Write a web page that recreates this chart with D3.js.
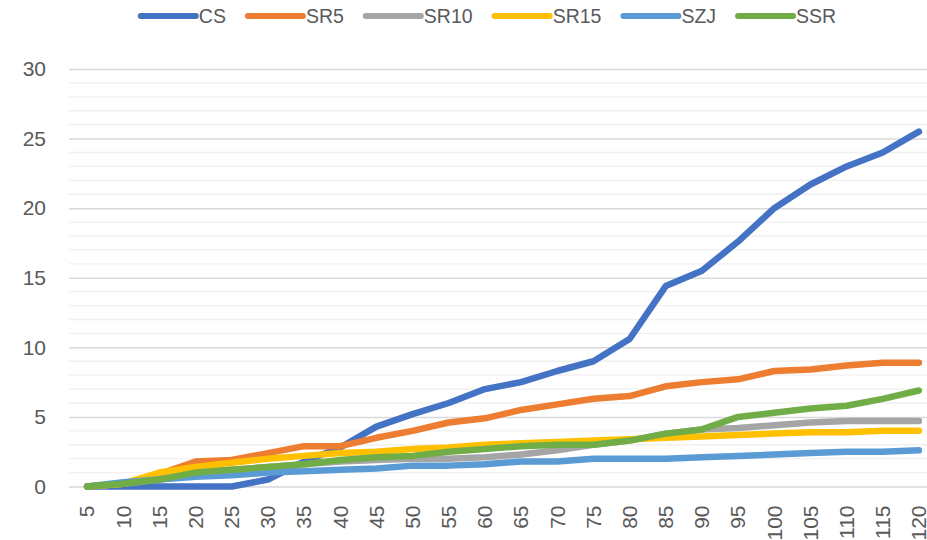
<!DOCTYPE html>
<html>
<head>
<meta charset="utf-8">
<script src="https://cdn.jsdelivr.net/npm/d3@7"></script>
<style>
    body { margin: 0; background: #fff; }
    svg { display: block; font-family: "Liberation Sans", Arial, sans-serif; }
</style>
</head>
<body>
<div id="chart"></div>
<script>
let categories = [5, 10, 15, 20, 25, 30, 35, 40, 45, 50, 55, 60, 65, 70, 75, 80, 85, 90, 95, 100, 105, 110, 115, 120];
let seriesNames = ["CS", "SR5", "SR10", "SR15", "SZJ", "SSR"];
let seriesColors = ["#4472C4", "#ED7D31", "#A5A5A5", "#FFC000", "#5B9BD5", "#70AD47"];
let csValues = [0, 0, 0, 0, 0, 0.5, 1.8, 2.8, 4.3, 5.2, 6.0, 7.0, 7.5, 8.3, 9.0, 10.6, 14.4, 15.5, 17.6, 20.0, 21.7, 23.0, 24.0, 25.5];
let sr5Values = [0, 0.2, 0.9, 1.8, 1.9, 2.4, 2.9, 2.9, 3.5, 4.0, 4.6, 4.9, 5.5, 5.9, 6.3, 6.5, 7.2, 7.5, 7.7, 8.3, 8.4, 8.7, 8.9, 8.9];
let sr10Values = [0, 0.2, 0.5, 1.0, 1.2, 1.4, 1.6, 1.8, 1.9, 2.0, 2.0, 2.1, 2.3, 2.6, 3.0, 3.3, 3.8, 4.1, 4.2, 4.4, 4.6, 4.7, 4.7, 4.7];
let sr15Values = [0, 0.2, 1.0, 1.4, 1.7, 2.0, 2.2, 2.4, 2.5, 2.7, 2.8, 3.0, 3.1, 3.2, 3.3, 3.4, 3.5, 3.6, 3.7, 3.8, 3.9, 3.9, 4.0, 4.0];
let szjValues = [0, 0.3, 0.5, 0.7, 0.8, 1.0, 1.1, 1.2, 1.3, 1.5, 1.5, 1.6, 1.8, 1.8, 2.0, 2.0, 2.0, 2.1, 2.2, 2.3, 2.4, 2.5, 2.5, 2.6];
let ssrValues = [0, 0.2, 0.5, 1.0, 1.2, 1.4, 1.6, 1.9, 2.1, 2.2, 2.5, 2.7, 2.9, 3.0, 3.0, 3.3, 3.8, 4.1, 5.0, 5.3, 5.6, 5.8, 6.3, 6.9];
let yTicks = [0, 5, 10, 15, 20, 25, 30];

let allValues = [csValues, sr5Values, sr10Values, sr15Values, szjValues, ssrValues];

let width = 927;
let height = 540;
let plotLeft = 69, plotRight = 937, plotTop = 69, plotBottom = 486.5;

let svg = d3.select("#chart")
    .append("svg")
    .attr("width", width)
    .attr("height", height);

let x = d3.scaleBand()
    .domain(categories)
    .range([plotLeft, plotRight])
    .padding(0);

let y = d3.scaleLinear()
    .domain([0, 30])
    .range([plotBottom, plotTop]);

// minor gridlines every 1, major every 5
svg.append("g")
    .selectAll("line")
    .data(d3.range(0, 31).filter(d => d % 5 !== 0))
    .enter().append("line")
    .attr("x1", plotLeft)
    .attr("x2", plotRight)
    .attr("y1", d => y(d))
    .attr("y2", d => y(d))
    .attr("stroke", "#F0F0F0")
    .attr("stroke-width", 1.3);

let yAxis = svg.append("g")
    .attr("transform", "translate(" + plotLeft + ",0)")
    .call(d3.axisLeft(y).tickValues(yTicks).tickSize(-(plotRight - plotLeft)).tickPadding(23));
yAxis.select(".domain").remove();
yAxis.selectAll(".tick line")
    .attr("stroke", "#D9D9D9")
    .attr("stroke-width", 1.5);
yAxis.selectAll(".tick text")
    .attr("fill", "#595959")
    .style("font-size", "21px")
    .style("font-family", "Liberation Sans, Arial, sans-serif");

// x axis labels, rotated
let xAxis = svg.append("g")
    .attr("transform", "translate(0," + plotBottom + ")")
    .call(d3.axisBottom(x).tickSize(0).tickPadding(0));
xAxis.select(".domain").remove();
xAxis.selectAll(".tick text")
    .attr("fill", "#595959")
    .style("font-size", "21px")
    .style("font-family", "Liberation Sans, Arial, sans-serif")
    .attr("text-anchor", "end")
    .attr("dy", "0.35em")
    .attr("y", 0)
    .attr("transform", "translate(0,19) rotate(-90)");

let line = d3.line()
    .x((d, i) => x(categories[i]) + x.bandwidth() / 2)
    .y(d => y(d));

svg.append("g")
    .selectAll("path")
    .data(allValues)
    .enter().append("path")
    .attr("d", d => line(d))
    .attr("fill", "none")
    .attr("stroke", (d, i) => seriesColors[i])
    .attr("stroke-width", 6.5)
    .attr("stroke-linejoin", "round")
    .attr("stroke-linecap", "round");

// legend
let legend = svg.append("g");
let items = legend.selectAll("g")
    .data(seriesNames)
    .enter().append("g");
items.append("line")
    .attr("x1", 0)
    .attr("x2", 55)
    .attr("y1", 16)
    .attr("y2", 16)
    .attr("stroke", (d, i) => seriesColors[i])
    .attr("stroke-width", 6)
    .attr("stroke-linecap", "round");
items.append("text")
    .attr("x", 58)
    .attr("y", 23)
    .attr("fill", "#595959")
    .style("font-size", "19.5px")
    .text(d => d);

let offset = 0;
let positions = [];
items.each(function(d) {
    let w = 58 + d3.select(this).select("text").node().getComputedTextLength();
    positions.push(offset);
    offset += w + 22;
});
let total = offset - 22;
let start = 488.5 - total / 2;
items.attr("transform", (d, i) => "translate(" + (start + positions[i]) + ",0)");
</script>
</body>
</html>
